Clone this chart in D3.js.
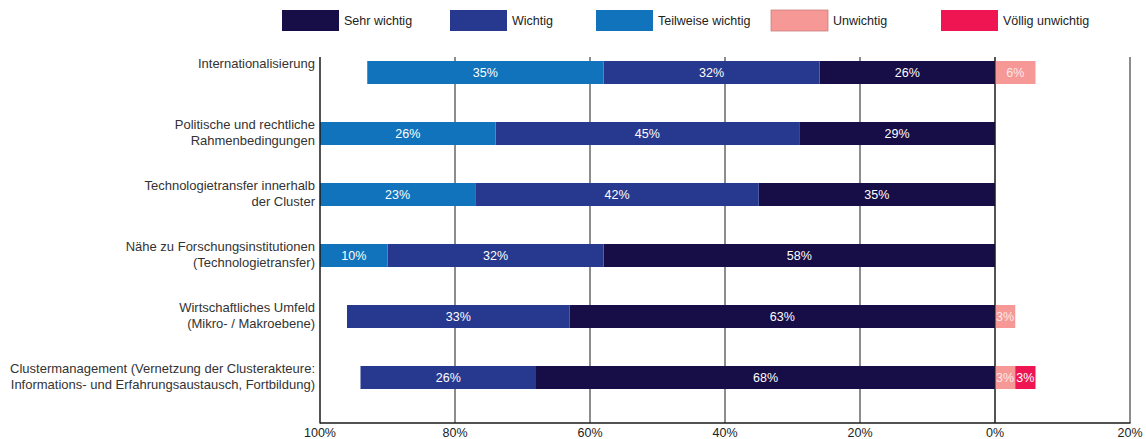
<!DOCTYPE html>
<meta charset="utf-8">
<script src="https://d3js.org/d3.v7.min.js"></script>
<style>
  body { margin: 0; background: #fff; }
  svg text { font-family: "Liberation Sans", Arial, sans-serif; }
</style>
<div id="chart"></div>
<script>
  // categories (top to bottom), each label split into lines
  var categories = [
    ["Internationalisierung"],
    ["Politische und rechtliche", "Rahmenbedingungen"],
    ["Technologietransfer innerhalb", "der Cluster"],
    ["Nähe zu Forschungsinstitutionen", "(Technologietransfer)"],
    ["Wirtschaftliches Umfeld", "(Mikro- / Makroebene)"],
    ["Clustermanagement (Vernetzung der Clusterakteure:", "Informations- und Erfahrungsaustausch, Fortbildung)"]
  ];
  var seriesNames = ["Sehr wichtig", "Wichtig", "Teilweise wichtig", "Unwichtig", "Völlig unwichtig"];
  var seriesColors = ["#170d47", "#27388f", "#1173bb", "#f59896", "#ee1552"];

  // values per series, in category order (percent)
  var sehrWichtig      = [26, 29, 35, 58, 63, 68];
  var wichtig          = [32, 45, 42, 32, 33, 26];
  var teilweise        = [35, 26, 23, 10, 0, 0];
  var unwichtig        = [6, 0, 0, 0, 3, 3];
  var voelligUnwichtig = [0, 0, 0, 0, 0, 3];

  var tickValues = [100, 80, 60, 40, 20, 0, -20];

  var width = 1146, height = 439;
  var plot = {left: 320, right: 1130, top: 57, bottom: 423};

  var svg = d3.select("#chart").append("svg")
    .attr("width", width)
    .attr("height", height);

  // reversed axis: 100% left, 0% in the middle, 20% on the right
  var x = d3.scaleLinear().domain([100, -20]).range([plot.left, plot.right]);
  var y = d3.scaleBand()
    .domain(d3.range(categories.length))
    .range([plot.top, plot.bottom]);
  var barH = 23, barOff = 4;

  // grid lines
  svg.append("g").selectAll("line")
    .data(tickValues.slice(1))
    .enter().append("line")
    .attr("x1", d => x(d)).attr("x2", d => x(d))
    .attr("y1", plot.top).attr("y2", plot.bottom)
    .attr("stroke", "#1a1a1a").attr("stroke-width", 1);

  // build segments: left side (important) stacks from 0 leftwards, right side from 0 rightwards
  var leftSeries = [sehrWichtig, wichtig, teilweise];
  var rightSeries = [unwichtig, voelligUnwichtig];
  var segments = [];
  categories.forEach(function(c, i) {
    var acc = 0;
    leftSeries.forEach(function(s, k) {
      if (s[i] > 0) segments.push({cat: i, k: k, v: s[i], from: acc, to: acc + s[i]});
      acc += s[i];
    });
    acc = 0;
    rightSeries.forEach(function(s, k) {
      if (s[i] > 0) segments.push({cat: i, k: k + 3, v: s[i], from: -acc, to: -(acc + s[i])});
      acc += s[i];
    });
  });

  svg.append("g").selectAll("rect")
    .data(segments)
    .enter().append("rect")
    .attr("x", d => Math.min(x(d.from), x(d.to)))
    .attr("width", d => Math.abs(x(d.to) - x(d.from)))
    .attr("y", d => y(d.cat) + barOff)
    .attr("height", barH)
    .attr("fill", d => seriesColors[d.k]);

  svg.append("g").selectAll("text")
    .data(segments)
    .enter().append("text")
    .attr("x", d => (x(d.from) + x(d.to)) / 2)
    .attr("y", d => y(d.cat) + barOff + barH / 2)
    .attr("dy", "0.35em")
    .attr("text-anchor", "middle")
    .style("font-size", "12.5px")
    .attr("fill", d => d.k === 3 ? "#fde8e8" : "#fff")
    .text(d => d.v + "%");

  // 0% line on top of bars
  svg.append("line")
    .attr("x1", x(0)).attr("x2", x(0))
    .attr("y1", plot.top).attr("y2", plot.bottom)
    .attr("stroke", "#1a1a1a").attr("stroke-width", 1);

  // axis lines
  svg.append("line")
    .attr("x1", plot.left).attr("x2", plot.left)
    .attr("y1", plot.top).attr("y2", plot.bottom + 0.5)
    .attr("stroke", "#1a1a1a").attr("stroke-width", 1.5);
  svg.append("line")
    .attr("x1", plot.left).attr("x2", plot.right + 0.5)
    .attr("y1", plot.bottom).attr("y2", plot.bottom)
    .attr("stroke", "#1a1a1a").attr("stroke-width", 1.5);

  // tick labels
  svg.append("g").selectAll("text")
    .data(tickValues)
    .enter().append("text")
    .attr("x", d => x(d))
    .attr("y", plot.bottom + 10)
    .attr("dy", "0.35em")
    .attr("text-anchor", "middle")
    .style("font-size", "12.5px")
    .attr("fill", "#222")
    .text(d => Math.abs(d) + "%");

  // category labels
  var cat = svg.append("g").selectAll("text")
    .data(categories)
    .enter().append("text")
    .attr("x", plot.left - 5)
    .attr("y", (d, i) => y(i) + barOff + 2)
    .attr("text-anchor", "end")
    .style("font-size", "13px")
    .attr("fill", "#333");
  cat.selectAll("tspan")
    .data(d => d)
    .enter().append("tspan")
    .attr("x", plot.left - 5)
    .attr("dy", (d, j) => j === 0 ? "0.35em" : "16px")
    .text(d => d);

  // legend
  var legendX = [282, 450, 596, 771, 941];
  var legend = svg.append("g").selectAll("g")
    .data(seriesNames)
    .enter().append("g")
    .attr("transform", (d, i) => "translate(" + legendX[i] + ",10)");
  legend.append("rect")
    .attr("width", 57).attr("height", 21)
    .attr("fill", (d, i) => seriesColors[i])
    .attr("stroke", (d, i) => i === 3 ? "#c98080" : "none")
    .attr("stroke-width", 0.8);
  legend.append("text")
    .attr("x", 62).attr("y", 10.5)
    .attr("dy", "0.35em")
    .style("font-size", "12.5px")
    .attr("fill", "#222")
    .text(d => d);
</script>
